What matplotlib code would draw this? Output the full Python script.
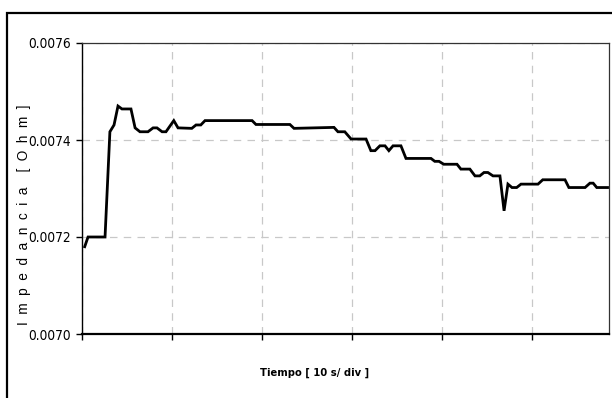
import matplotlib
matplotlib.use("Agg")
import matplotlib.pyplot as plt
from matplotlib.patches import Rectangle

# impedance trace (time in s, impedance in ohm)
TIME = [0.3, 0.67, 2.56, 3.1, 3.56, 4.0, 4.44, 5.44, 5.9, 6.44, 7.33, 7.9, 8.33,
        8.9, 9.33, 10.2, 10.67, 12.2, 12.67, 13.2, 13.67, 18.9, 19.33, 23.1, 23.56,
        28.0, 28.44, 29.2, 29.9, 31.56, 32.1, 32.56, 33.1, 33.67, 34.1, 34.56,
        35.44, 36.0, 38.78, 39.2, 39.67, 40.2, 41.67, 42.1, 43.1, 43.67, 44.2,
        44.67, 45.1, 45.67, 46.44, 46.9, 47.33, 47.78, 48.3, 48.78, 50.67, 51.2,
        53.67, 54.1, 55.9, 56.44, 56.8, 57.2, 58.4]
IMP = [0.007180, 0.007200, 0.007200, 0.007417, 0.007431, 0.007470, 0.007464,
       0.007464, 0.007425, 0.007417, 0.007417, 0.007425, 0.007425, 0.007417,
       0.007417, 0.007440, 0.007425, 0.007424, 0.007431, 0.007431, 0.007440,
       0.007440, 0.007432, 0.007432, 0.007424, 0.007426, 0.007417, 0.007417,
       0.007402, 0.007402, 0.007378, 0.007378, 0.007388, 0.007388, 0.007378,
       0.007388, 0.007388, 0.007362, 0.007362, 0.007356, 0.007356, 0.007350,
       0.007350, 0.007340, 0.007340, 0.007326, 0.007326, 0.007333, 0.007333,
       0.007326, 0.007326, 0.007254, 0.007309, 0.007302, 0.007302, 0.007309,
       0.007309, 0.007318, 0.007318, 0.007302, 0.007302, 0.007311, 0.007311,
       0.007302, 0.007302]

X_TICKS = [0, 10, 20, 30, 40, 50]
Y_TICKS = [0.0070, 0.0072, 0.0074, 0.0076]
Y_LABELS = ["0.0070", "0.0072", "0.0074", "0.0076"]

NARROW = ["DejaVu Sans", "Liberation Sans"]

fig = plt.figure(figsize=(6.12, 3.98), dpi=100)
ax = fig.add_axes([82 / 612, 1 - 334 / 398, 527 / 612, 291 / 398])

# outer chart frame (runs off right and bottom edges)
fig.patches.append(Rectangle((7 / 612, -0.1), 1.2, 1.1 - 13 / 398,
                             transform=fig.transFigure, fill=False,
                             edgecolor="black", linewidth=1.6))

ax.plot(TIME, IMP, color="black", lw=2.0, solid_joinstyle="miter")

ax.set_xlim(0, 58.56)
ax.set_ylim(0.0070, 0.0076)
ax.set_xticks(X_TICKS)
ax.set_xticklabels([])
ax.set_yticks(Y_TICKS)
ax.set_yticklabels(Y_LABELS, fontsize=9.8, family=NARROW, stretch="condensed")
ax.tick_params(axis="both", direction="out", length=4, width=1, color="black")
ax.tick_params(axis="y", pad=4)
ax.grid(True, color="#c8c8c8", ls=(0, (6, 5)), lw=0.9)

for s in ["top", "right"]:
    ax.spines[s].set_linewidth(0.9)
    ax.spines[s].set_color("#333333")
ax.spines["left"].set_linewidth(1.0)
ax.spines["bottom"].set_linewidth(1.6)

fig.text(24 / 612, 1 - 215 / 398, "I  m  p  e  d  a  n  c  i  a    [  O  h  m  ]",
         rotation=90, ha="center", va="center", fontsize=9.8,
         family=["Liberation Sans", "DejaVu Sans"])
fig.text(315 / 612, 1 - 373 / 398, "Tiempo [ 10 s/ div ]", ha="center",
         va="center", fontsize=8, fontweight="bold", family=NARROW,
         stretch="condensed")

fig.savefig("out.png", dpi=100)
